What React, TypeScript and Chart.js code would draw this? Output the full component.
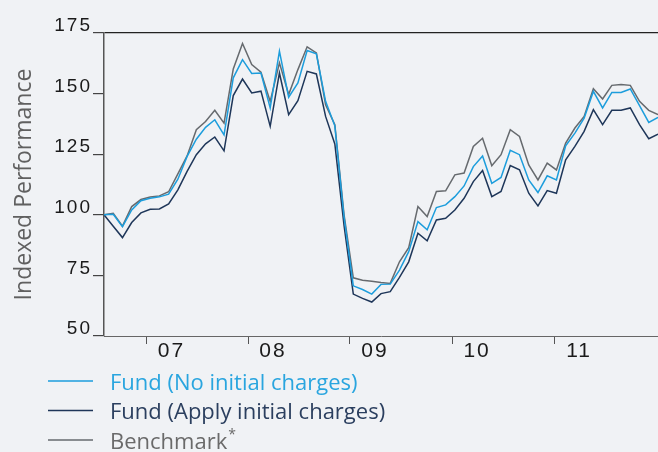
import React, { useEffect, useRef } from 'react';
import { Chart, registerables } from 'chart.js';

Chart.register(...registerables);

// Observation index (one point per period along the x axis)
const periods = [
  0, 1, 2, 3, 4, 5, 6, 7, 8, 9, 10, 11, 12, 13, 14, 15, 16, 17, 18, 19, 20,
  21, 22, 23, 24, 25, 26, 27, 28, 29, 30, 31, 32, 33, 34, 35, 36, 37, 38, 39, 40,
  41, 42, 43, 44, 45, 46, 47, 48, 49, 50, 51, 52, 53, 54, 55, 56, 57, 58, 59, 60,
];

const fundNoCharges = [
  100, 100.2, 95.1, 102.0, 105.8, 106.8, 107.4, 108.5, 114.7, 124.1,
  131.2, 136.1, 139.2, 133.0, 156.5, 164.0, 158.3, 158.5, 144.1, 167.5,
  148.5, 154.4, 167.8, 166.4, 146.8, 136.7, 99.0, 70.7, 69.2, 67.3,
  71.3, 71.4, 77.2, 84.8, 97.2, 93.8, 103.0, 104.1, 107.5, 111.9,
  119.9, 124.3, 113.0, 115.4, 126.6, 124.8, 114.4, 109.2, 116.1, 114.4,
  128.5, 133.7, 139.9, 150.9, 144.1, 150.5, 150.5, 151.9, 145.0, 138.1,
  140.2,
];

const fundWithCharges = [
  100, 95.3, 90.6, 96.8, 100.8, 102.3, 102.4, 104.5, 110.3, 117.9,
  124.8, 129.3, 132.1, 126.4, 149.2, 156.0, 150.3, 151.0, 136.5, 158.5,
  141.3, 147.1, 159.2, 158.1, 140.6, 129.2, 95.5, 67.3, 65.5, 64.0,
  67.5, 68.3, 74.2, 80.6, 92.4, 89.3, 97.9, 98.6, 102.0, 106.8,
  113.7, 118.3, 107.5, 109.6, 120.3, 118.6, 108.9, 103.7, 110.0, 108.9,
  122.7, 128.2, 134.4, 143.4, 137.2, 143.1, 143.1, 144.1, 137.2, 131.4,
  133.3,
];

const benchmark = [
  100, 100.6, 95.3, 103.4, 106.3, 107.3, 107.8, 109.5, 116.9, 124.3,
  135.1, 138.5, 143.1, 137.8, 160.2, 170.7, 162.0, 158.8, 146.8, 162.7,
  149.6, 159.9, 169.3, 166.8, 145.4, 137.2, 100.0, 74.0, 73.0, 72.6,
  72.1, 71.7, 80.6, 86.4, 103.4, 99.3, 109.6, 109.9, 116.5, 117.2,
  128.2, 131.6, 120.2, 124.8, 135.1, 132.3, 120.6, 114.4, 121.3, 118.5,
  129.6, 135.8, 140.6, 152.0, 147.8, 153.4, 153.8, 153.4, 146.8, 143.1,
  141.3,
];

const yearTickPositions = [4.6, 15.6, 26.64, 37.7, 48.75];
const yearTickLabels = ['07', '08', '09', '10', '11'];

const seriesLabels = ['Fund (No initial charges)', 'Fund (Apply initial charges)', 'Benchmark'];
const seriesColors = ['#1c9ddc', '#1e3659', '#666a6e'];
const legendTextColors = ['#29a5df', '#2b3f5f', '#6a6a6a'];

const legendAndSpacingPlugin = {
  id: 'legendAndSpacing',
  afterDatasetsDraw(chart: any) {
    chart.ctx.letterSpacing = '2px';
  },
  afterDraw(chart: any) {
    const ctx = chart.ctx;
    ctx.letterSpacing = '0px';
    ctx.save();
    const datasets = chart.data.datasets;
    datasets.forEach((ds: any, i: number) => {
      const lineY = 381 + i * 29.5;
      const baseY = 389.5 + i * 29.5;
      ctx.strokeStyle = ds.borderColor;
      ctx.lineWidth = 1.5;
      ctx.beginPath();
      ctx.moveTo(48, lineY);
      ctx.lineTo(93, lineY);
      ctx.stroke();
      ctx.font = '400 22px "Open Sans", sans-serif';
      ctx.fillStyle = legendTextColors[i];
      ctx.textAlign = 'left';
      ctx.textBaseline = 'alphabetic';
      ctx.fillText(ds.label, 110, baseY);
      if (i === 2) {
        const w = ctx.measureText(ds.label).width;
        ctx.font = '400 14px "Open Sans", sans-serif';
        ctx.fillText('*', 110 + w + 1, baseY - 10);
      }
    });
    ctx.restore();
  },
};

export default function App() {
  const canvasRef = useRef<HTMLCanvasElement | null>(null);

  useEffect(() => {
    if (!canvasRef.current) return;
    const datasets = [fundNoCharges, fundWithCharges, benchmark].map((data, i) => ({
      label: seriesLabels[i],
      data,
      borderColor: seriesColors[i],
      backgroundColor: seriesColors[i],
      borderWidth: 1.5,
      pointRadius: 0,
      tension: 0,
      fill: false,
    }));

    const chart = new Chart(canvasRef.current, {
      type: 'line',
      data: { labels: periods, datasets },
      plugins: [legendAndSpacingPlugin],
      options: {
        animation: false,
        responsive: true,
        maintainAspectRatio: false,
        layout: { padding: { top: 33, right: 0, bottom: 86, left: 0 } },
        plugins: {
          legend: { display: false },
          tooltip: { enabled: false },
        },
        scales: {
          x: {
            type: 'linear',
            min: 0,
            max: 60,
            afterFit: (scale: any) => {
              scale.height = 30;
            },
            afterBuildTicks: (scale: any) => {
              scale.ticks = yearTickPositions.map((v) => ({ value: v }));
            },
            grid: {
              display: true,
              drawOnChartArea: false,
              drawTicks: true,
              tickLength: 8,
              tickColor: '#555',
              tickWidth: 1,
            },
            border: { display: true, color: '#666', width: 1 },
            ticks: {
              z: 1,
              autoSkip: false,
              maxRotation: 0,
              labelOffset: 25,
              padding: -5,
              color: '#1a1a1a',
              font: { family: 'Arial, "Liberation Sans", sans-serif', size: 21 },
              callback: (_v: any, index: number) => yearTickLabels[index],
            },
          },
          y: {
            min: 50,
            max: 175,
            afterFit: (scale: any) => {
              scale.width = 104;
            },
            grid: {
              display: true,
              drawOnChartArea: true,
              drawTicks: true,
              tickLength: 11,
              tickColor: '#444',
              color: (c: any) => (c.tick && c.tick.value === 175 ? '#222' : 'rgba(0,0,0,0)'),
              lineWidth: 1.2,
            },
            border: { display: true, color: '#555', width: 1.5 },
            ticks: {
              z: 1,
              stepSize: 25,
              labelOffset: -7,
              padding: 1,
              color: '#1a1a1a',
              font: { family: 'Arial, "Liberation Sans", sans-serif', size: 19 },
            },
            title: {
              display: true,
              text: 'Indexed Performance',
              color: '#606060',
              font: { family: '"Open Sans", sans-serif', size: 23, weight: '400' as any },
              padding: { top: 11, bottom: 0 },
            },
          },
        },
      } as any,
    });
    return () => chart.destroy();
  }, []);

  return (
    <div
      style={{
        position: 'fixed',
        left: 0,
        top: 0,
        width: 658,
        height: 452,
        background: '#f0f2f5',
      }}
    >
      <canvas ref={canvasRef} />
    </div>
  );
}
